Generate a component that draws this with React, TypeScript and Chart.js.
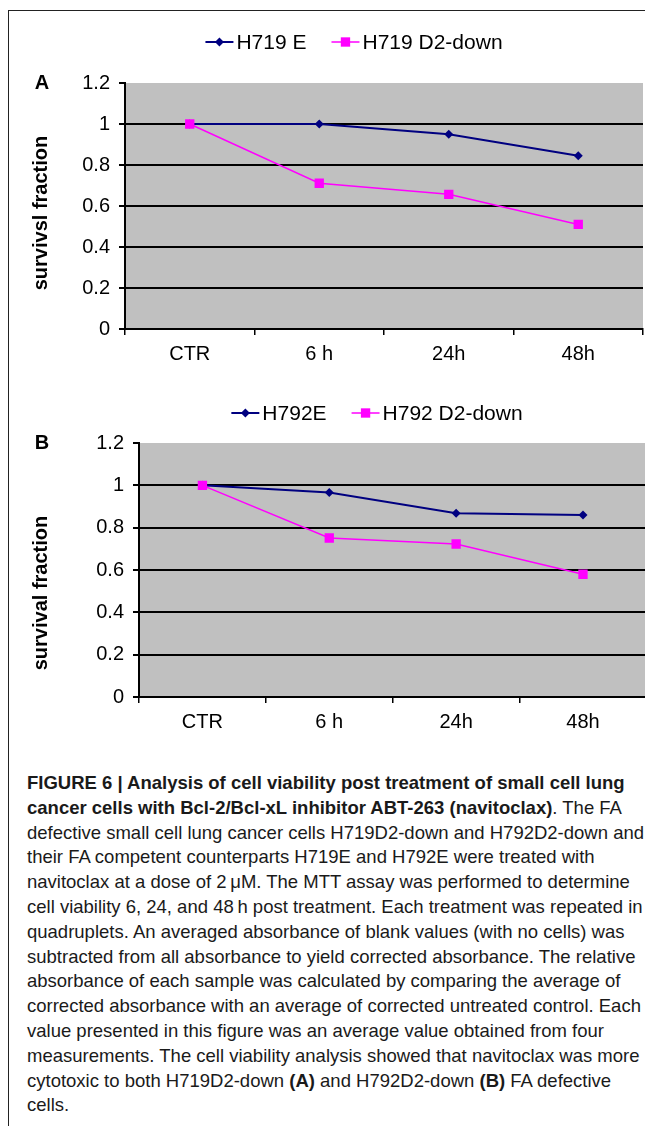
import React, { useEffect, useRef } from 'react';
import { Chart, registerables } from 'chart.js';

Chart.register(...registerables);

// ---------- data ----------
const categories = ['CTR', '6 h', '24h', '48h'];
const yTickLabels = ['0', '0.2', '0.4', '0.6', '0.8', '1', '1.2'];
const yTickValues = [0, 0.2, 0.4, 0.6, 0.8, 1.0, 1.2];

const seriesNamesA = ['H719 E', 'H719 D2-down'];
const h719E = [1.0, 1.0, 0.95, 0.845];
const h719D2down = [1.0, 0.711, 0.657, 0.51];

const seriesNamesB = ['H792E', 'H792 D2-down'];
const h792E = [1.0, 0.966, 0.868, 0.86];
const h792D2down = [1.0, 0.751, 0.723, 0.58];

const yTitleA = 'survivsl fraction';
const yTitleB = 'survival fraction';

// ---------- styles ----------
const NAVY = '#000080';
const MAGENTA = '#ff00ff';
const FONT = '"Liberation Sans", Arial, sans-serif';

type Layout = {
  yWidth: number;
  xHeight: number;
  padTop: number;
  padRight: number;
  legendCX: number;
  legendY: number;
  letterX: number;
  letterY: number;
  titleX: number;
  titleY: number;
};

const decorPlugin = {
  id: 'decor',
  beforeDraw(chart: any) {
    const { ctx, chartArea: a } = chart;
    ctx.save();
    ctx.fillStyle = '#c0c0c0';
    ctx.fillRect(a.left, a.top, a.right - a.left, a.bottom - a.top);
    ctx.restore();
  },
  afterDraw(chart: any, _args: any, opts: any) {
    const { ctx } = chart;
    const L: Layout = opts.layout;
    ctx.save();
    // panel letter
    ctx.fillStyle = '#000';
    ctx.font = `bold 20px ${FONT}`;
    ctx.textAlign = 'center';
    ctx.textBaseline = 'middle';
    ctx.fillText(opts.letter, L.letterX, L.letterY);
    // y title
    ctx.save();
    ctx.translate(L.titleX, L.titleY);
    ctx.rotate(-Math.PI / 2);
    ctx.fillText(opts.yTitle, 0, 0);
    ctx.restore();
    // legend
    ctx.font = `21px ${FONT}`;
    ctx.textAlign = 'left';
    const lineLen = 28;
    const gap = 3;
    const itemGap = 25;
    const ds = chart.data.datasets;
    const widths = ds.map((d: any) => ctx.measureText(d.label).width);
    let total = 0;
    widths.forEach((w: number, i: number) => {
      total += lineLen + gap + w + (i > 0 ? itemGap : 0);
    });
    let x = L.legendCX - total / 2;
    const y = L.legendY;
    ds.forEach((d: any, i: number) => {
      ctx.strokeStyle = d.borderColor;
      ctx.lineWidth = d.borderWidth;
      ctx.beginPath();
      ctx.moveTo(x, y);
      ctx.lineTo(x + lineLen, y);
      ctx.stroke();
      const cx = x + lineLen / 2;
      ctx.fillStyle = d.borderColor;
      if (d.pointStyle === 'rectRot') {
        const r = d.pointRadius;
        ctx.beginPath();
        ctx.moveTo(cx, y - r);
        ctx.lineTo(cx + r, y);
        ctx.lineTo(cx, y + r);
        ctx.lineTo(cx - r, y);
        ctx.closePath();
        ctx.fill();
      } else {
        const s = d.pointRadius * Math.SQRT1_2;
        ctx.fillRect(cx - s, y - s, 2 * s, 2 * s);
      }
      ctx.fillStyle = '#000';
      ctx.fillText(d.label, x + lineLen + gap, y + 1);
      x += lineLen + gap + widths[i] + itemGap;
    });
    ctx.restore();
  },
};

function Panel(props: {
  names: string[];
  eVals: number[];
  dVals: number[];
  letter: string;
  yTitle: string;
  layout: Layout;
  style: React.CSSProperties;
}) {
  const ref = useRef<HTMLCanvasElement | null>(null);
  useEffect(() => {
    if (!ref.current) return;
    const L = props.layout;
    const chart = new Chart(ref.current, {
      type: 'line',
      data: {
        labels: categories,
        datasets: [
          {
            label: props.names[0],
            data: props.eVals,
            borderColor: NAVY,
            backgroundColor: NAVY,
            borderWidth: 2,
            pointStyle: 'rectRot',
            pointRadius: 4.5,
            pointBorderWidth: 0,
            pointBackgroundColor: NAVY,
            tension: 0,
            order: 2,
          },
          {
            label: props.names[1],
            data: props.dVals,
            borderColor: MAGENTA,
            backgroundColor: MAGENTA,
            borderWidth: 1.5,
            pointStyle: 'rect',
            pointRadius: 6.6,
            pointBorderWidth: 0,
            pointBackgroundColor: MAGENTA,
            tension: 0,
            order: 1,
          },
        ],
      },
      options: {
        animation: false,
        responsive: false,
        devicePixelRatio: 1,
        layout: { padding: { left: 0, right: L.padRight, top: L.padTop, bottom: 0 } },
        plugins: {
          legend: { display: false },
          tooltip: { enabled: false },
          decor: { layout: L, letter: props.letter, yTitle: props.yTitle },
        } as any,
        scales: {
          x: {
            type: 'category',
            offset: true,
            grid: {
              offset: true,
              drawOnChartArea: false,
              drawTicks: true,
              tickLength: 6,
              color: '#000',
              lineWidth: 1.5,
            },
            border: { display: true, color: '#000', width: 2 },
            ticks: {
              color: '#000',
              font: { family: FONT, size: 20 },
              padding: 7,
              maxRotation: 0,
            },
            afterFit: (s: any) => {
              s.height = L.xHeight;
            },
          },
          y: {
            min: 0,
            max: 1.2,
            ticks: {
              stepSize: 0.2,
              color: '#000',
              font: { family: FONT, size: 20 },
              padding: 9,
              callback: (v: any) => {
                const idx = yTickValues.findIndex((t) => Math.abs(t - Number(v)) < 1e-6);
                return idx >= 0 ? yTickLabels[idx] : '';
              },
            },
            grid: {
              color: (c: any) => (c.tick && c.tick.value > 1.19 ? 'rgba(0,0,0,0)' : '#000'),
              tickColor: '#000',
              tickLength: 6,
              lineWidth: 2,
            },
            border: { display: true, color: '#000', width: 2 },
            afterFit: (s: any) => {
              s.width = L.yWidth;
            },
          },
        },
      },
      plugins: [decorPlugin],
    });
    return () => chart.destroy();
  }, []);
  return <canvas ref={ref} width={644} height={360} style={{ position: 'absolute', width: 644, height: 360, ...props.style }} />;
}

const layoutA: Layout = {
  yWidth: 116,
  xHeight: 46,
  padTop: 68,
  padRight: 10,
  legendCX: 345,
  legendY: 27,
  letterX: 33,
  letterY: 68,
  titleX: 32.5,
  titleY: 198,
};

const layoutB: Layout = {
  yWidth: 130,
  xHeight: 48,
  padTop: 58,
  padRight: 6,
  legendCX: 368,
  legendY: 28,
  letterX: 33,
  letterY: 58,
  titleX: 32.5,
  titleY: 208,
};

const captionLines: React.ReactNode[] = [
  <b>FIGURE 6 | Analysis of cell viability post treatment of small cell lung</b>,
  <>
    <b>cancer cells with Bcl-2/Bcl-xL inhibitor ABT-263 (navitoclax)</b>. The FA
  </>,
  'defective small cell lung cancer cells H719D2-down and H792D2-down and',
  'their FA competent counterparts H719E and H792E were treated with',
  'navitoclax at a dose of 2\u2009\u03bcM. The MTT assay was performed to determine',
  'cell viability 6, 24, and 48\u2009h post treatment. Each treatment was repeated in',
  'quadruplets. An averaged absorbance of blank values (with no cells) was',
  'subtracted from all absorbance to yield corrected absorbance. The relative',
  'absorbance of each sample was calculated by comparing the average of',
  'corrected absorbance with an average of corrected untreated control. Each',
  'value presented in this figure was an average value obtained from four',
  'measurements. The cell viability analysis showed that navitoclax was more',
  <>
    cytotoxic to both H719D2-down <b>(A)</b> and H792D2-down <b>(B)</b> FA defective
  </>,
  'cells.',
];

export default function App() {
  return (
    <div
      style={{
        position: 'relative',
        marginTop: 2,
        height: 1116,
        borderTop: '1px solid #222',
        borderLeft: '1px solid #222',
        overflow: 'hidden',
      }}
    >
      <Panel
        names={seriesNamesA}
        eVals={h719E}
        dVals={h719D2down}
        letter="A"
        yTitle={yTitleA}
        layout={layoutA}
        style={{ left: 0, top: 4 }}
      />
      <Panel
        names={seriesNamesB}
        eVals={h792E}
        dVals={h792D2down}
        letter="B"
        yTitle={yTitleB}
        layout={layoutB}
        style={{ left: 0, top: 374 }}
      />
      <div
        style={{
          position: 'absolute',
          left: 18,
          top: 760,
          fontFamily: '"Liberation Sans", Arial, sans-serif',
          fontSize: 18.5,
          lineHeight: '24.8px',
          color: '#1a1a1a',
        }}
      >
        {captionLines.map((l, i) => (
          <div key={i} style={{ whiteSpace: 'nowrap' }}>
            {l}
          </div>
        ))}
      </div>
    </div>
  );
}
